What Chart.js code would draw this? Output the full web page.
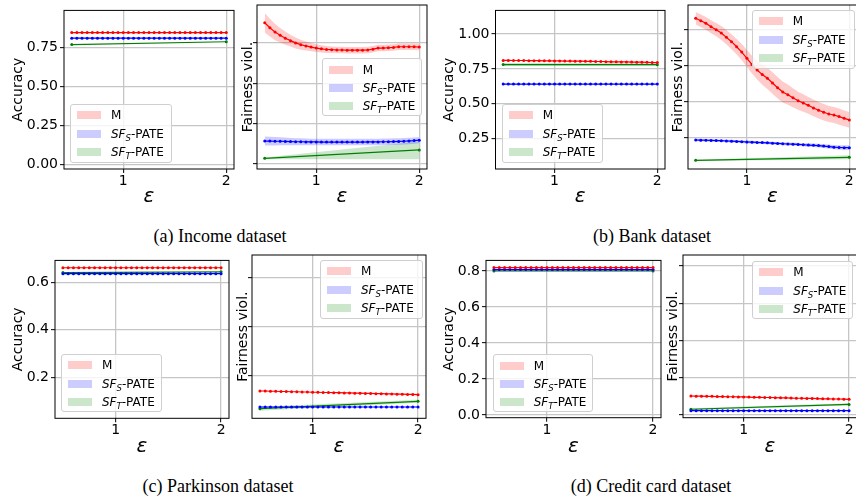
<!DOCTYPE html>
<html>
<head>
<meta charset="utf-8">
<script src="https://cdn.jsdelivr.net/npm/chart.js@4.4.1/dist/chart.umd.min.js"></script>
<style>
  html, body { margin: 0; padding: 0; background: #fff; }
  #fig { position: relative; width: 856px; height: 500px; overflow: hidden; }
  #fig canvas { position: absolute; }
  .leg {
    position: absolute; box-sizing: border-box; z-index: 5;
    background: rgba(255,255,255,0.8); border: 1px solid #cfcfcf; border-radius: 3px;
    font-family: 'DejaVu Sans', sans-serif; font-size: 12px; color: #000;
  }
  .leg .patch { position: absolute; left: 6px; width: 24px; height: 8px; }
  .leg .lab { position: absolute; left: 40px; line-height: 14px; white-space: nowrap; }
  .leg .lab sub { font-size: 8.5px; font-style: italic; vertical-align: -3px; line-height: 0; }
  .cap {
    position: absolute; width: 300px; text-align: center; z-index: 5;
    font-family: 'Liberation Serif', 'Times New Roman', serif; font-size: 18px; color: #000;
  }
</style>
</head>
<body>
<div id="fig"></div>
<script>
// ---- data -----------------------------------------------------------------
const eps = [0.5, 0.55, 0.6, 0.65, 0.7, 0.75, 0.8, 0.85, 0.9, 0.95,
             1.0, 1.05, 1.1, 1.15, 1.2, 1.25, 1.3, 1.35, 1.4, 1.45,
             1.5, 1.55, 1.6, 1.65, 1.7, 1.75, 1.8, 1.85, 1.9, 1.95,
             2.0];
const epsEnds = [0.5, 2.0];

const xTicks = [1, 2];
const xTickLabels = ['1', '2'];

const seriesNames = ['M', '<i>SF</i><sub>S</sub>-PATE', '<i>SF</i><sub>T</sub>-PATE'];

// (a) Income
const incomeYTicks = [0, 0.25, 0.5, 0.75];
const incomeYLabels = ['0.00', '0.25', '0.50', '0.75'];
const incomeAccM = [0.844, 0.844, 0.844, 0.844, 0.844, 0.844, 0.844, 0.844, 0.844, 0.844,
                    0.844, 0.844, 0.844, 0.844, 0.844, 0.844, 0.844, 0.844, 0.844, 0.844,
                    0.844, 0.844, 0.844, 0.844, 0.844, 0.844, 0.844, 0.844, 0.844, 0.844,
                    0.844];
const incomeAccS = [0.808, 0.808, 0.808, 0.808, 0.808, 0.808, 0.808, 0.808, 0.808, 0.808,
                    0.808, 0.808, 0.808, 0.808, 0.808, 0.808, 0.808, 0.808, 0.808, 0.808,
                    0.808, 0.808, 0.808, 0.808, 0.808, 0.808, 0.808, 0.808, 0.808, 0.808,
                    0.808];
const incomeAccT = [0.767, 0.785];
const incomeFairM = [0.876, 0.845, 0.818, 0.798, 0.780, 0.765, 0.751, 0.740, 0.732, 0.725,
                     0.719, 0.714, 0.710, 0.709, 0.707, 0.707, 0.706, 0.706, 0.706, 0.706,
                     0.707, 0.712, 0.719, 0.719, 0.721, 0.723, 0.727, 0.727, 0.727, 0.727,
                     0.725];
const incomeFairMStd = [0.060, 0.055, 0.050, 0.045, 0.041, 0.037, 0.034, 0.031, 0.028, 0.026,
                        0.024, 0.022, 0.021, 0.020, 0.020, 0.020, 0.020, 0.020, 0.020, 0.020,
                        0.020, 0.020, 0.020, 0.020, 0.020, 0.020, 0.020, 0.020, 0.020, 0.020,
                        0.020];
const incomeFairS = [0.142, 0.142, 0.141, 0.141, 0.140, 0.139, 0.138, 0.138, 0.137, 0.137,
                     0.137, 0.136, 0.136, 0.136, 0.136, 0.136, 0.136, 0.136, 0.136, 0.136,
                     0.137, 0.137, 0.137, 0.138, 0.138, 0.139, 0.140, 0.141, 0.143, 0.145,
                     0.148];
const incomeFairSStd = [0.028, 0.027, 0.026, 0.025, 0.024, 0.023, 0.022, 0.021, 0.021, 0.020,
                        0.020, 0.020, 0.020, 0.020, 0.020, 0.020, 0.020, 0.020, 0.020, 0.020,
                        0.020, 0.020, 0.020, 0.020, 0.020, 0.020, 0.020, 0.020, 0.020, 0.020,
                        0.020];
const incomeFairT = [0.035, 0.087];
const incomeFairTLo = [0.030, 0.030];
const incomeFairTHi = [0.040, 0.140];

// (b) Bank
const bankYTicks = [0.25, 0.5, 0.75, 1.0];
const bankYLabels = ['0.25', '0.50', '0.75', '1.00'];
const bankAccM = [0.811, 0.811, 0.810, 0.810, 0.810, 0.809, 0.809, 0.809, 0.808, 0.808,
                  0.807, 0.807, 0.806, 0.806, 0.805, 0.805, 0.804, 0.804, 0.803, 0.803,
                  0.802, 0.801, 0.801, 0.800, 0.800, 0.799, 0.798, 0.798, 0.797, 0.796,
                  0.795];
const bankAccS = [0.641, 0.641, 0.641, 0.641, 0.641, 0.641, 0.641, 0.641, 0.641, 0.641,
                  0.641, 0.641, 0.641, 0.641, 0.641, 0.641, 0.641, 0.641, 0.641, 0.641,
                  0.641, 0.641, 0.641, 0.641, 0.641, 0.641, 0.641, 0.641, 0.641, 0.641,
                  0.641];
const bankAccT = [0.781, 0.780];
const bankAccTLo = [0.770, 0.770];
const bankAccTHi = [0.792, 0.790];
const bankFairM = [1.077, 1.060, 1.042, 1.019, 0.998, 0.975, 0.945, 0.915, 0.880, 0.843,
                   0.800, 0.756, 0.719, 0.687, 0.661, 0.629, 0.596, 0.566, 0.548, 0.527,
                   0.506, 0.490, 0.474, 0.456, 0.440, 0.426, 0.414, 0.407, 0.396, 0.384,
                   0.373];
const bankFairMStd = [0.043, 0.043, 0.044, 0.045, 0.046, 0.048, 0.050, 0.052, 0.054, 0.056,
                      0.058, 0.062, 0.066, 0.070, 0.073, 0.075, 0.075, 0.073, 0.070, 0.066,
                      0.062, 0.060, 0.058, 0.058, 0.057, 0.057, 0.056, 0.056, 0.056, 0.055,
                      0.055];
const bankFairS = [0.234, 0.233, 0.232, 0.231, 0.230, 0.229, 0.227, 0.226, 0.224, 0.222,
                   0.220, 0.219, 0.217, 0.216, 0.214, 0.212, 0.210, 0.208, 0.206, 0.205,
                   0.203, 0.201, 0.199, 0.197, 0.195, 0.192, 0.188, 0.184, 0.182, 0.181,
                   0.181];
const bankFairSStd = [0.009, 0.009, 0.009, 0.009, 0.009, 0.009, 0.009, 0.009, 0.009, 0.009,
                      0.010, 0.010, 0.010, 0.010, 0.010, 0.010, 0.010, 0.010, 0.010, 0.010,
                      0.011, 0.011, 0.012, 0.012, 0.013, 0.013, 0.014, 0.015, 0.016, 0.016,
                      0.016];
const bankFairT = [0.093, 0.114];
const bankFairTLo = [0.089, 0.100];
const bankFairTHi = [0.097, 0.128];

// (c) Parkinson
const parkYTicks = [0.2, 0.4, 0.6];
const parkYLabels = ['0.2', '0.4', '0.6'];
const parkAccM = [0.661, 0.661, 0.661, 0.661, 0.661, 0.661, 0.661, 0.661, 0.661, 0.661,
                  0.661, 0.661, 0.661, 0.661, 0.661, 0.661, 0.661, 0.661, 0.661, 0.661,
                  0.661, 0.661, 0.661, 0.661, 0.661, 0.661, 0.661, 0.661, 0.661, 0.661,
                  0.661];
const parkAccS = [0.636, 0.636, 0.636, 0.636, 0.636, 0.636, 0.636, 0.636, 0.636, 0.636,
                  0.636, 0.636, 0.636, 0.636, 0.636, 0.636, 0.636, 0.636, 0.636, 0.636,
                  0.636, 0.636, 0.636, 0.636, 0.636, 0.636, 0.636, 0.636, 0.636, 0.636,
                  0.636];
const parkAccT = [0.641, 0.644];
const parkFairM = [0.139, 0.139, 0.138, 0.138, 0.137, 0.137, 0.136, 0.136, 0.135, 0.135,
                   0.134, 0.134, 0.133, 0.133, 0.132, 0.132, 0.131, 0.131, 0.130, 0.130,
                   0.129, 0.129, 0.128, 0.128, 0.127, 0.127, 0.126, 0.126, 0.125, 0.125,
                   0.124];
const parkFairS = [0.074, 0.074, 0.074, 0.074, 0.074, 0.074, 0.074, 0.074, 0.074, 0.074,
                   0.074, 0.074, 0.074, 0.074, 0.074, 0.074, 0.074, 0.074, 0.074, 0.074,
                   0.074, 0.074, 0.074, 0.074, 0.074, 0.074, 0.074, 0.074, 0.074, 0.074,
                   0.074];
const parkFairT = [0.067, 0.097];
const parkFairTLo = [0.059, 0.091];
const parkFairTHi = [0.075, 0.103];

// (d) Credit card
const creditYTicks = [0, 0.2, 0.4, 0.6, 0.8];
const creditYLabels = ['0.0', '0.2', '0.4', '0.6', '0.8'];
const creditAccM = [0.819, 0.819, 0.819, 0.819, 0.819, 0.819, 0.819, 0.819, 0.819, 0.819,
                    0.819, 0.819, 0.819, 0.819, 0.819, 0.819, 0.819, 0.819, 0.819, 0.819,
                    0.819, 0.819, 0.819, 0.819, 0.819, 0.819, 0.819, 0.819, 0.819, 0.819,
                    0.819];
const creditAccS = [0.808, 0.808, 0.808, 0.808, 0.808, 0.808, 0.808, 0.808, 0.808, 0.808,
                    0.808, 0.808, 0.808, 0.808, 0.808, 0.808, 0.808, 0.808, 0.808, 0.808,
                    0.808, 0.808, 0.808, 0.808, 0.808, 0.808, 0.808, 0.808, 0.808, 0.808,
                    0.808];
const creditAccT = [0.800, 0.800];
const creditFairM = [0.102, 0.101, 0.101, 0.100, 0.100, 0.099, 0.099, 0.098, 0.098, 0.097,
                     0.097, 0.096, 0.095, 0.095, 0.094, 0.094, 0.093, 0.092, 0.092, 0.091,
                     0.090, 0.090, 0.089, 0.089, 0.088, 0.087, 0.087, 0.086, 0.086, 0.085,
                     0.084];
const creditFairS = [0.023, 0.023, 0.023, 0.023, 0.023, 0.023, 0.023, 0.023, 0.023, 0.023,
                     0.023, 0.023, 0.023, 0.023, 0.023, 0.023, 0.023, 0.023, 0.023, 0.023,
                     0.023, 0.023, 0.023, 0.023, 0.023, 0.023, 0.023, 0.023, 0.023, 0.023,
                     0.023];
const creditFairT = [0.031, 0.057];
const creditFairTLo = [0.026, 0.051];
const creditFairTHi = [0.036, 0.063];

// ---- styling ---------------------------------------------------------------
const RED = '#ff0000', BLUE = '#0000ff', GREEN = '#008000';
const BAND = ['rgba(255,0,0,0.2)', 'rgba(0,0,255,0.2)', 'rgba(0,128,0,0.2)'];
const GRID = '#c6c6c6';

Chart.defaults.font.family = "'DejaVu Sans', sans-serif";
Chart.defaults.color = '#000';

const fig = document.getElementById('fig');

// black box round the plot area, like matplotlib spines
const framePlugin = {
  id: 'frame',
  afterDatasetsDraw(chart) {
    const { ctx, chartArea: a } = chart;
    ctx.save();
    ctx.strokeStyle = '#000';
    ctx.lineWidth = 1;
    ctx.strokeRect(a.left, a.top, a.right - a.left, a.bottom - a.top);
    ctx.restore();
  },
};

function ser(x, y, color, band, extra) {
  return Object.assign({ x, y, color, band }, extra || {});
}

function datasetsFor(series) {
  const out = [];
  series.forEach(s => {
    const pts = ys => s.x.map((x, i) => ({ x, y: ys[i] }));
    let lo = s.lo, hi = s.hi;
    if (s.std) {
      lo = s.y.map((v, i) => v - s.std[i]);
      hi = s.y.map((v, i) => v + s.std[i]);
    }
    if (lo) {
      out.push({ data: pts(hi), fill: '+1', backgroundColor: s.band, borderColor: 'rgba(0,0,0,0)',
                 borderWidth: 0, pointRadius: 0, order: 2 });
      out.push({ data: pts(lo), fill: false, borderColor: 'rgba(0,0,0,0)',
                 borderWidth: 0, pointRadius: 0, order: 2 });
    }
    out.push({ data: pts(s.y), borderColor: s.color, backgroundColor: s.color, borderWidth: 1.2,
               pointRadius: 1.5, pointBorderWidth: 0, fill: false, order: 0 });
  });
  return out;
}

function addLegend(box) {
  const d = document.createElement('div');
  d.className = 'leg';
  d.style.left = box[0] + 'px';
  d.style.top = box[1] + 'px';
  d.style.width = (box[2] - box[0]) + 'px';
  d.style.height = (box[3] - box[1]) + 'px';
  const rowY = [10.3, 28.7, 47];
  d.innerHTML = seriesNames.map((n, i) =>
    `<div class="patch" style="top:${rowY[i] - 4}px;background:${BAND[i]}"></div>` +
    `<div class="lab" style="top:${rowY[i] - 7}px">${n}</div>`).join('');
  fig.appendChild(d);
}

function addCaption(text, cx, cy) {
  const d = document.createElement('div');
  d.className = 'cap';
  d.style.left = (cx - 150) + 'px';
  d.style.top = (cy - 11) + 'px';
  d.textContent = text;
  fig.appendChild(d);
}

function makePanel(p) {
  const [l, t, r, b] = p.box;
  const canvasLeft = Math.round(p.titleX - 8.4);
  const canvasTop = t - 5;
  const W = l - canvasLeft;
  const canvasW = Math.ceil(r - canvasLeft + 2);
  const padRight = canvasW - (r - canvasLeft);
  const canvasH = Math.ceil(p.epsY + 12 - canvasTop);
  const H = canvasH - 5 - (b - t);

  const cv = document.createElement('canvas');
  cv.width = canvasW;
  cv.height = canvasH;
  cv.style.left = canvasLeft + 'px';
  cv.style.top = canvasTop + 'px';
  cv.style.width = canvasW + 'px';
  cv.style.height = canvasH + 'px';
  fig.appendChild(cv);

  new Chart(cv, {
    type: 'line',
    data: { datasets: datasetsFor(p.series) },
    options: {
      responsive: false,
      animation: false,
      devicePixelRatio: 1,
      layout: { padding: { top: 5, right: padRight, left: 0, bottom: 0 } },
      plugins: { legend: { display: false }, tooltip: { enabled: false } },
      scales: {
        x: {
          type: 'linear', min: 0.425, max: 2.075,
          afterBuildTicks: s => { s.ticks = xTicks.map(v => ({ value: v })); },
          afterFit: s => { s.height = H; },
          ticks: { callback: (v, i) => xTickLabels[i], font: { size: 14 }, padding: 0, maxRotation: 0 },
          grid: { color: GRID, lineWidth: 1.3, tickColor: '#000', tickLength: 4, tickWidth: 1 },
          border: { display: false },
          title: { display: true, text: 'ε', padding: 0,
                   font: { size: 20, style: 'italic', family: "'DejaVu Sans', sans-serif" } },
        },
        y: {
          type: 'linear', min: p.yMin, max: p.yMax,
          afterBuildTicks: s => { s.ticks = p.yTicks.map(v => ({ value: v })); },
          afterFit: s => { s.width = W; },
          ticks: { display: p.showY, callback: (v, i) => p.yLabels[i], font: { size: 14 }, padding: 2 },
          grid: { color: GRID, lineWidth: 1.3, tickColor: '#000', tickLength: 4, tickWidth: 1 },
          border: { display: false },
          title: { display: true, text: p.yTitle, padding: { top: 0, bottom: 0 }, font: { size: 14 } },
        },
      },
    },
    plugins: [framePlugin],
  });

  addLegend(p.legend);
}

const panels = [
  { box: [64, 5, 236, 169], titleX: 18.3, epsY: 197, yTitle: 'Accuracy', showY: true,
    yMin: -0.031, yMax: 0.986, yTicks: incomeYTicks, yLabels: incomeYLabels,
    legend: [70, 104, 172, 163],
    series: [ser(eps, incomeAccM, RED, BAND[0]), ser(eps, incomeAccS, BLUE, BAND[1]),
             ser(epsEnds, incomeAccT, GREEN, BAND[2])] },
  { box: [257, 5, 428.5, 169], titleX: 248.3, epsY: 197, yTitle: 'Fairness viol.', showY: false,
    yMin: -0.031, yMax: 0.986, yTicks: incomeYTicks, yLabels: incomeYLabels,
    legend: [321.7, 58.3, 422.3, 116],
    series: [ser(eps, incomeFairM, RED, BAND[0], { std: incomeFairMStd }),
             ser(eps, incomeFairS, BLUE, BAND[1], { std: incomeFairSStd }),
             ser(epsEnds, incomeFairT, GREEN, BAND[2], { lo: incomeFairTLo, hi: incomeFairTHi })] },
  { box: [495.5, 5, 667, 169], titleX: 449.3, epsY: 197, yTitle: 'Accuracy', showY: true,
    yMin: 0.033, yMax: 1.169, yTicks: bankYTicks, yLabels: bankYLabels,
    legend: [501.7, 104, 602.7, 163],
    series: [ser(eps, bankAccM, RED, BAND[0]), ser(eps, bankAccS, BLUE, BAND[1]),
             ser(epsEnds, bankAccT, GREEN, BAND[2], { lo: bankAccTLo, hi: bankAccTHi })] },
  { box: [688, 5, 859, 169], titleX: 678.3, epsY: 197, yTitle: 'Fairness viol.', showY: false,
    yMin: 0.033, yMax: 1.169, yTicks: bankYTicks, yLabels: bankYLabels,
    legend: [751.7, 10, 855, 69],
    series: [ser(eps, bankFairM, RED, BAND[0], { std: bankFairMStd }),
             ser(eps, bankFairS, BLUE, BAND[1], { std: bankFairSStd }),
             ser(epsEnds, bankFairT, GREEN, BAND[2], { lo: bankFairTLo, hi: bankFairTHi })] },
  { box: [55, 255, 230.7, 418.3], titleX: 18.3, epsY: 447, yTitle: 'Accuracy', showY: true,
    yMin: 0.028, yMax: 0.692, yTicks: parkYTicks, yLabels: parkYLabels,
    legend: [61, 354, 162.3, 412],
    series: [ser(eps, parkAccM, RED, BAND[0]), ser(eps, parkAccS, BLUE, BAND[1]),
             ser(epsEnds, parkAccT, GREEN, BAND[2])] },
  { box: [252, 255, 428, 418.3], titleX: 243.3, epsY: 447, yTitle: 'Fairness viol.', showY: false,
    yMin: 0.028, yMax: 0.692, yTicks: parkYTicks, yLabels: parkYLabels,
    legend: [320, 260, 422.7, 319],
    series: [ser(eps, parkFairM, RED, BAND[0]), ser(eps, parkFairS, BLUE, BAND[1]),
             ser(epsEnds, parkFairT, GREEN, BAND[2], { lo: parkFairTLo, hi: parkFairTHi })] },
  { box: [486, 255, 663, 417.7], titleX: 449.3, epsY: 447, yTitle: 'Accuracy', showY: true,
    yMin: -0.0145, yMax: 0.859, yTicks: creditYTicks, yLabels: creditYLabels,
    legend: [492.7, 354.3, 592.7, 412],
    series: [ser(eps, creditAccM, RED, BAND[0]), ser(eps, creditAccS, BLUE, BAND[1]),
             ser(epsEnds, creditAccT, GREEN, BAND[2])] },
  { box: [683, 255, 859, 417.7], titleX: 673.3, epsY: 447, yTitle: 'Fairness viol.', showY: false,
    yMin: -0.0145, yMax: 0.859, yTicks: creditYTicks, yLabels: creditYLabels,
    legend: [752.3, 261, 853.3, 319],
    series: [ser(eps, creditFairM, RED, BAND[0]), ser(eps, creditFairS, BLUE, BAND[1]),
             ser(epsEnds, creditFairT, GREEN, BAND[2], { lo: creditFairTLo, hi: creditFairTHi })] },
];

panels.forEach(makePanel);

addCaption('(a) Income dataset', 220, 237);
addCaption('(b) Bank dataset', 652, 237);
addCaption('(c) Parkinson dataset', 218, 487);
addCaption('(d) Credit card dataset', 651, 487);
</script>
</body>
</html>
